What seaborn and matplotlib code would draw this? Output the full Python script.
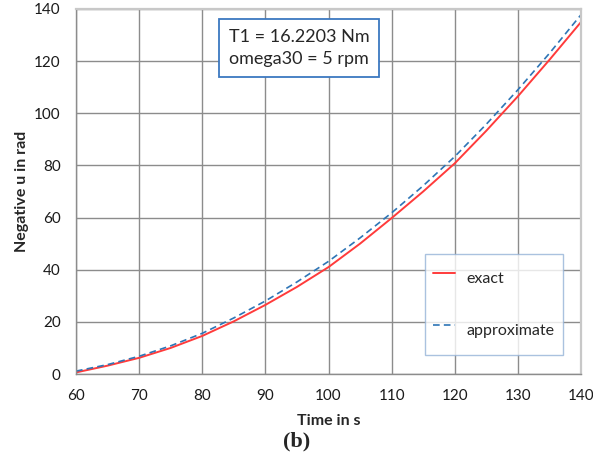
import matplotlib
matplotlib.use("Agg")
import matplotlib.pyplot as plt
import seaborn as sns
import pandas as pd

# Time (s) and negative angle u (rad)
time_s = [60, 65, 70, 75, 80, 85, 90, 95, 100, 105, 110, 115, 120, 125, 130, 135, 140]
u_exact = [0.6, 3.2, 6.2, 10.0, 14.6, 20.2, 26.5, 33.4, 41.0, 50.0, 59.8, 70.0, 80.8, 93.3, 106.5, 120.5, 135.0]
u_approx = [1.1, 3.6, 6.8, 10.8, 15.6, 21.5, 28.0, 35.3, 43.2, 52.2, 61.8, 72.2, 83.4, 95.8, 109.0, 123.0, 137.8]

x_ticks = [60, 70, 80, 90, 100, 110, 120, 130, 140]
y_ticks = [0, 20, 40, 60, 80, 100, 120, 140]

df = pd.DataFrame({"t": time_s, "exact": u_exact, "approximate": u_approx})

sns.set_style("white")
plt.rcParams["font.family"] = ["Lato", "DejaVu Sans"]

fig = plt.figure(figsize=(5.93, 4.58), dpi=100)
ax = fig.add_axes([76 / 593, 1 - 374 / 458, (581 - 76) / 593, (374 - 9) / 458])

sns.lineplot(data=df, x="t", y="exact", ax=ax, color="#FF3B3B", lw=1.4, label="exact")
sns.lineplot(data=df, x="t", y="approximate", ax=ax, color="#2E75B6", lw=1.2,
             linestyle=(0, (4, 2.5)), label="approximate")

ax.set_xlim(60, 140)
ax.set_ylim(0, 140)
ax.set_xticks(x_ticks)
ax.set_yticks(y_ticks)
ax.tick_params(axis="both", labelsize=11, length=0, pad=11, colors="#1A1A1A")
ax.grid(True, color="#8C8C8C", lw=1.0)
ax.set_axisbelow(True)

for side in ["left", "bottom"]:
    ax.spines[side].set_color("#8C8C8C")
    ax.spines[side].set_linewidth(1.0)
for side in ["top", "right"]:
    ax.spines[side].set_color("#C8C8C8")
    ax.spines[side].set_linewidth(1.6)

ax.set_xlabel("Time in s", fontsize=11.5, fontweight="bold", labelpad=8)
ax.set_ylabel("Negative u in rad", fontsize=11.5, fontweight="bold", labelpad=4)

ax.text((299 - 76) / 505, (374 - 48) / 365, "T1 = 16.2203 Nm\nomega30 = 5 rpm",
        transform=ax.transAxes, ha="center", va="center", fontsize=13, linespacing=1.45,
        bbox=dict(boxstyle="square,pad=0.55", fc="white", ec="#3C78C0", lw=1.3))

leg = ax.legend(loc="lower right", bbox_to_anchor=((563 - 76) / 505, (374 - 355) / 365),
                fontsize=11.5, frameon=True, fancybox=False, labelspacing=1.25,
                borderpad=0.55, handleheight=2.7, handlelength=1.35,
                handletextpad=0.7, borderaxespad=0)
leg.get_frame().set_edgecolor("#95B3D7")
leg.get_frame().set_linewidth(1.0)

fig.text(297 / 593, 1 - 441 / 458, "(b)", ha="center", va="center",
         fontsize=16, fontweight="bold", family=["Liberation Serif"])

fig.savefig("out.png", dpi=100)
